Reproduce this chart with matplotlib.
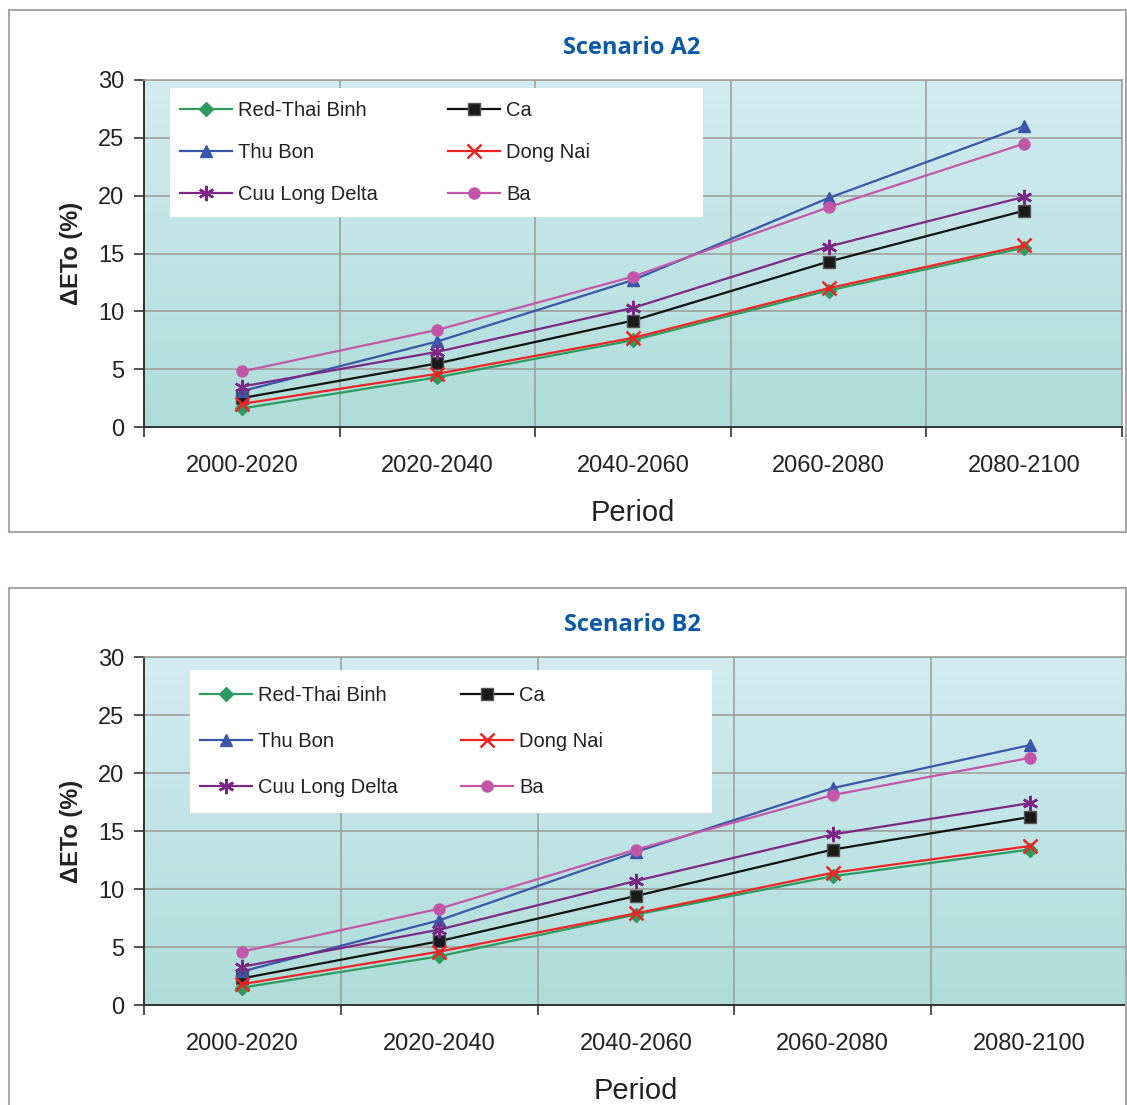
import numpy as np
import matplotlib.pyplot as plt
from matplotlib.patches import Rectangle
from matplotlib.colors import LinearSegmentedColormap

# Periods on the x axis
periods = ["2000-2020", "2020-2040", "2040-2060", "2060-2080", "2080-2100"]

# Change of reference evapotranspiration (%) per river basin, scenario A2
a2_red_thai_binh = [1.6, 4.3, 7.5, 11.8, 15.5]
a2_ca = [2.5, 5.5, 9.2, 14.3, 18.7]
a2_thu_bon = [3.1, 7.4, 12.7, 19.8, 26.0]
a2_dong_nai = [2.0, 4.6, 7.7, 12.0, 15.7]
a2_cuu_long = [3.5, 6.5, 10.3, 15.6, 19.9]
a2_ba = [4.8, 8.4, 13.0, 19.0, 24.5]

# Same basins, scenario B2
b2_red_thai_binh = [1.5, 4.2, 7.8, 11.1, 13.4]
b2_ca = [2.3, 5.5, 9.4, 13.4, 16.2]
b2_thu_bon = [2.9, 7.3, 13.2, 18.7, 22.4]
b2_dong_nai = [1.8, 4.6, 7.9, 11.4, 13.7]
b2_cuu_long = [3.3, 6.5, 10.7, 14.7, 17.4]
b2_ba = [4.6, 8.3, 13.4, 18.1, 21.3]

# series style: name, colour, marker, marker size
styles = [
    ("Red-Thai Binh", "#2f9a60", "D", 7),
    ("Ca", "#111111", "s", 8),
    ("Thu Bon", "#3956a8", "^", 9),
    ("Dong Nai", "#ee2424", "x", 10),
    ("Cuu Long Delta", "#7b2784", (6, 2, 0), 11),
    ("Ba", "#c257a9", "o", 8),
]

a2_data = [a2_red_thai_binh, a2_ca, a2_thu_bon, a2_dong_nai, a2_cuu_long, a2_ba]
b2_data = [b2_red_thai_binh, b2_ca, b2_thu_bon, b2_dong_nai, b2_cuu_long, b2_ba]

plt.rcParams["font.family"] = ["Liberation Sans", "DejaVu Sans"]

W, H = 1127, 1105
fig = plt.figure(figsize=(W / 100, H / 100), dpi=100)

bg_cmap = LinearSegmentedColormap.from_list("bg", ["#d3ecf2", "#aedcd9"])


def px(x0, y0, x1, y1):
    # pixel box -> figure fraction rect
    return [x0 / W, 1 - y1 / H, (x1 - x0) / W, (y1 - y0) / H]


def draw_panel(data, title, box, axes_px, legend_px, leg_anchor, row_gap, col_gap, title_y):
    # grey frame around the panel
    bx0, by0, bx1, by1 = box
    fig.patches.append(Rectangle((bx0 / W, 1 - by1 / H), (bx1 - bx0) / W, (by1 - by0) / H,
                                 transform=fig.transFigure, fill=False,
                                 edgecolor="#a8a8a8", linewidth=1.5, zorder=0))
    fig.text(632 / W, 1 - title_y / H, title, ha="center", va="center",
             fontsize=17, fontweight="bold", color="#0b5aa6",
             family=["Open Sans", "DejaVu Sans"])

    ax = fig.add_axes(px(*axes_px))
    x = np.arange(len(periods))
    ax.imshow(np.linspace(0, 1, 256).reshape(-1, 1), cmap=bg_cmap, aspect="auto",
              extent=[-0.5, 4.5, 0, 30], origin="upper", zorder=0)

    handles = {}
    for (name, color, marker, ms), vals in zip(styles, data):
        kw = dict(markeredgecolor=color, markerfacecolor=color)
        if marker == "s":
            kw = dict(markeredgecolor="#555555", markerfacecolor="#1a1a1a", markeredgewidth=1)
        if marker in ("x",) or isinstance(marker, tuple):
            kw = dict(markeredgecolor=color, markeredgewidth=1.8)
        (ln,) = ax.plot(x, vals, color=color, linewidth=1.6, marker=marker,
                        markersize=ms, zorder=3, clip_on=False, **kw)
        handles[name] = ln

    ax.set_xlim(-0.5, 4.5)
    ax.set_ylim(0, 30)
    ax.set_yticks(range(0, 31, 5))
    ax.set_xticks(np.arange(-0.5, 5, 1))
    ax.set_xticklabels([])
    ax.set_xticks(x, minor=True)
    ax.set_xticklabels(periods, minor=True)
    ax.tick_params(axis="x", which="minor", length=0, pad=20, labelsize=17, labelcolor="#222222")
    ax.tick_params(axis="x", which="major", length=7, width=1.2, color="#333333")
    ax.tick_params(axis="y", length=7, width=1.2, color="#333333", labelsize=17,
                   labelcolor="#222222", pad=7)
    ax.grid(True, which="major", color="#a0a0a0", linewidth=1.2, zorder=1)
    ax.set_axisbelow(True)
    for s in ("left", "bottom"):
        ax.spines[s].set_color("#333333")
        ax.spines[s].set_linewidth(1.4)
    for s in ("top", "right"):
        ax.spines[s].set_color("#a0a0a0")
        ax.spines[s].set_linewidth(1.2)

    ax.set_ylabel("\u0394ETo (%)", fontsize=17, fontweight="bold", color="#222222", labelpad=11)
    ax.set_xlabel("Period", fontsize=21, color="#222222", labelpad=16)

    # white legend panel, then the entries on top of it
    lx0, ly0, lx1, ly1 = legend_px
    ax.add_patch(Rectangle((lx0 / W, 1 - ly1 / H), (lx1 - lx0) / W, (ly1 - ly0) / H,
                           transform=fig.transFigure, facecolor="white",
                           edgecolor="none", zorder=4))
    order = ["Red-Thai Binh", "Thu Bon", "Cuu Long Delta", "Ca", "Dong Nai", "Ba"]
    leg = ax.legend([handles[n] for n in order], order, ncol=2, loc="upper left",
                    bbox_to_anchor=(leg_anchor[0] / W, 1 - leg_anchor[1] / H),
                    bbox_transform=fig.transFigure,
                    fontsize=14.5, frameon=False, borderaxespad=0, borderpad=0,
                    handlelength=2.6, handletextpad=0.3, labelspacing=row_gap,
                    columnspacing=col_gap)
    leg.set_zorder(5)
    for t in leg.get_texts():
        t.set_color("#222222")
    return ax


draw_panel(a2_data, "Scenario A2", (9, 10, 1126, 532), (144, 80, 1122, 427),
           (170, 88, 703, 217), (180, 101), 1.15, 3.45, 48)
draw_panel(b2_data, "Scenario B2", (9, 588, 1126, 1120), (144, 657, 1128, 1005),
           (190, 670, 712, 813), (200, 686), 1.35, 3.1, 625)

fig.savefig("out.png", dpi=100)
